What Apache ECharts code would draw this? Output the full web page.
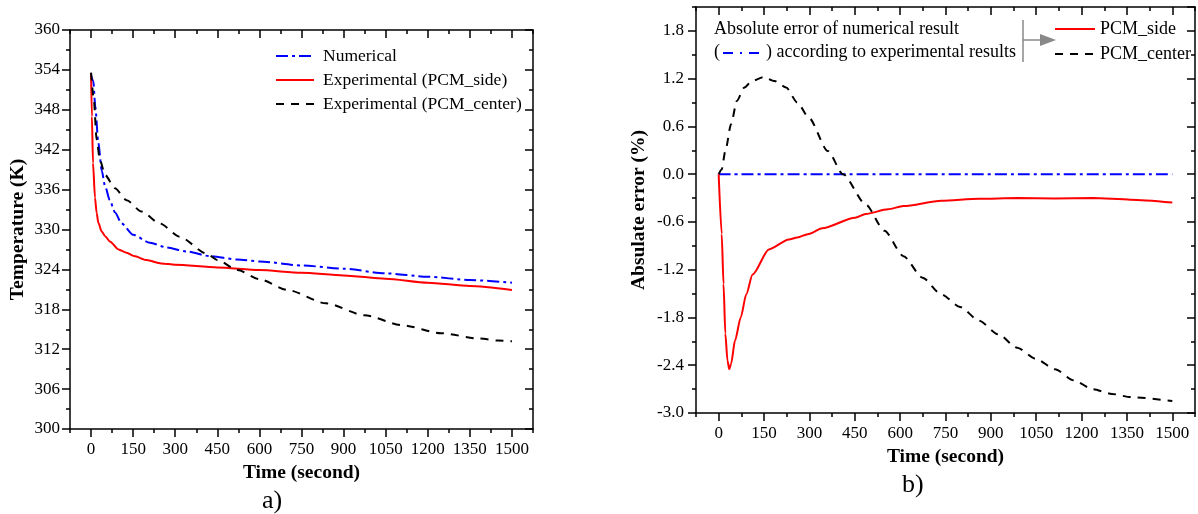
<!DOCTYPE html>
<html>
<head>
<meta charset="utf-8">
<script src="https://cdn.jsdelivr.net/npm/echarts@6/dist/echarts.min.js"></script>
<style>
html, body { margin: 0; padding: 0; background: #fff; }
#container { width: 1198px; height: 514px; }
</style>
</head>
<body>
<div id="container"></div>
<script>
// a) temperature (K) against time (s)
var tNumerical = [0, 8, 15, 26, 38, 50, 67, 85, 109, 150, 210, 270, 340, 423, 520, 600, 750, 900, 1050, 1200, 1350, 1500];
var tempNumerical = [353.2, 352.3, 348.5, 343.0, 338.9, 336.5, 334.4, 332.6, 330.9, 329.2, 328.0, 327.3, 326.7, 326.0, 325.5, 325.2, 324.6, 324.1, 323.4, 322.9, 322.4, 322.0];

var tSide = [0, 3, 7, 14, 20, 26, 38, 50, 67, 98, 127, 153, 198, 250, 300, 450, 600, 750, 900, 1050, 1200, 1350, 1500];
var tempSide = [353.5, 347.0, 340.0, 334.8, 332.5, 331.0, 329.7, 329.0, 328.2, 327.0, 326.5, 326.0, 325.4, 324.9, 324.7, 324.3, 323.9, 323.5, 323.1, 322.6, 322.0, 321.5, 320.9];

var tCenter = [0, 10, 20, 32, 50, 85, 127, 180, 245, 316, 411, 451, 522, 602, 700, 837, 974, 1110, 1247, 1384, 1450, 1500];
var tempCenter = [353.6, 349.5, 343.5, 340.4, 338.2, 336.2, 334.4, 332.7, 330.9, 328.9, 326.4, 325.4, 323.9, 322.5, 320.9, 318.9, 317.1, 315.6, 314.4, 313.6, 313.3, 313.2];

// b) absolute error (%) against time (s)
var tErrNum = [0, 1500];
var errNum = [0, 0];

var tErrSide = [0, 10, 16, 22, 29, 35, 41, 54, 73, 91, 112, 166, 232, 260, 298, 342, 451, 486, 560, 611, 736, 861, 987, 1112, 1237, 1362, 1500];
var errSide = [0, -0.75, -1.38, -2.0, -2.34, -2.45, -2.38, -2.09, -1.80, -1.51, -1.26, -0.945, -0.82, -0.795, -0.75, -0.68, -0.547, -0.50, -0.441, -0.40, -0.335, -0.31, -0.30, -0.305, -0.30, -0.32, -0.356];

var tErrCenter = [0, 10, 22, 41, 60, 85, 110, 148, 185, 223, 260, 298, 361, 411, 486, 548, 611, 674, 736, 799, 861, 924, 987, 1049, 1112, 1174, 1237, 1300, 1362, 1500];
var errCenter = [0, 0.06, 0.29, 0.63, 0.92, 1.09, 1.17, 1.22, 1.17, 1.09, 0.90, 0.71, 0.29, 0, -0.38, -0.71, -1.03, -1.30, -1.51, -1.67, -1.84, -2.01, -2.18, -2.32, -2.45, -2.59, -2.70, -2.76, -2.80, -2.85];

var timeTicks = [0, 150, 300, 450, 600, 750, 900, 1050, 1200, 1350, 1500];

var FONT = 'Liberation Serif';

function zip(xs, ys) {
    return xs.map(function (x, i) { return [x, ys[i]]; });
}

var tickStyle = { color: '#000', width: 1.5 };

// four x axes per grid: bottom (labels + short ticks), bottom long ticks, top short, top long
function xAxes(g, nameGap) {
    var base = {
        gridIndex: g, type: 'value', min: -75, max: 1575, interval: 75,
        splitLine: { show: false },
        axisLine: { show: false, onZero: false },
        axisLabel: { show: false }
    };
    return [
        Object.assign({}, base, {
            position: 'bottom',
            axisLine: { show: true, onZero: false, lineStyle: tickStyle },
            axisTick: { inside: false, length: 4, lineStyle: tickStyle },
            axisLabel: {
                show: true, color: '#000', fontFamily: FONT, fontSize: 17, margin: 12,
                formatter: function (v) { return (v >= 0 && v % 150 === 0) ? String(v) : ''; }
            },
            name: 'Time (second)', nameLocation: 'middle', nameGap: nameGap,
            nameTextStyle: { color: '#000', fontFamily: FONT, fontSize: 19.5, fontWeight: 'bold' }
        }),
        Object.assign({}, base, {
            position: 'bottom',
            axisTick: { inside: false, length: 8, customValues: timeTicks, lineStyle: tickStyle }
        }),
        Object.assign({}, base, {
            position: 'top',
            axisLine: { show: true, onZero: false, lineStyle: tickStyle },
            axisTick: { inside: true, length: 4, lineStyle: tickStyle }
        }),
        Object.assign({}, base, {
            position: 'top',
            axisTick: { inside: true, length: 8, customValues: timeTicks, lineStyle: tickStyle }
        })
    ];
}

function yAxes(g, min, max, step, name, nameGap, margin, showMax, fmt) {
    var base = {
        gridIndex: g, type: 'value', min: min, max: max,
        splitLine: { show: false },
        axisLine: { show: false, onZero: false },
        axisLabel: { show: false }
    };
    return [
        Object.assign({}, base, {
            position: 'left', interval: step,
            axisLine: { show: true, onZero: false, lineStyle: tickStyle },
            axisTick: { inside: false, length: 8, lineStyle: tickStyle },
            axisLabel: {
                show: true, color: '#000', fontFamily: FONT, fontSize: 17, margin: margin,
                showMaxLabel: showMax, showMinLabel: true, formatter: fmt
            },
            name: name, nameLocation: 'middle', nameGap: nameGap,
            nameTextStyle: { color: '#000', fontFamily: FONT, fontSize: 19.5, fontWeight: 'bold' }
        }),
        Object.assign({}, base, {
            position: 'left', interval: step / 2,
            axisTick: { inside: false, length: 4, lineStyle: tickStyle }
        }),
        Object.assign({}, base, {
            position: 'right', interval: step,
            axisLine: { show: true, onZero: false, lineStyle: tickStyle },
            axisTick: { inside: true, length: 8, lineStyle: tickStyle }
        }),
        Object.assign({}, base, {
            position: 'right', interval: step / 2,
            axisTick: { inside: true, length: 4, lineStyle: tickStyle }
        })
    ];
}

var blueDash = [12, 4, 3, 4];
var blackDash = [8, 7];

function line(name, data, xi, yi, color, type) {
    return {
        name: name, type: 'line', xAxisIndex: xi, yAxisIndex: yi,
        data: data, showSymbol: false, symbol: 'none', smooth: 0.25, smoothMonotone: 'x',
        lineStyle: { color: color, width: 2, type: type },
        itemStyle: { color: color },
        z: 3
    };
}

var myChart = echarts.init(document.getElementById('container'));
var option = {
    backgroundColor: '#fff',
    animation: false,
    grid: [
        { left: 70, top: 30, width: 463, height: 399 },
        { left: 696, top: 7, width: 503, height: 406 }
    ],
    xAxis: xAxes(0, 33).concat(xAxes(1, 32)),
    yAxis: yAxes(0, 300, 360, 6, 'Temperature (K)', 42, 10, true, function (v) { return String(Math.round(v)); })
        .concat(yAxes(1, -3.0, 2.1, 0.6, 'Absulate error (%)', 47, 12, false, function (v) { return v.toFixed(1); })),
    legend: [
        {
            orient: 'vertical', left: 275, top: 47, padding: 0, itemWidth: 38, itemHeight: 14, itemGap: 6,
            itemStyle: { opacity: 0 },
            textStyle: { color: '#000', fontFamily: FONT, fontSize: 17.5, padding: [0, 0, 0, 4] },
            data: ['Numerical', 'Experimental (PCM_side)', 'Experimental (PCM_center)']
        },
        {
            orient: 'vertical', left: 1054, top: 20, padding: 0, itemWidth: 40, itemHeight: 14, itemGap: 7,
            itemStyle: { opacity: 0 },
            textStyle: { color: '#000', fontFamily: FONT, fontSize: 18 },
            data: ['PCM_side', 'PCM_center']
        }
    ],
    graphic: [
        { type: 'text', left: 714, top: 20, style: { text: 'Absolute error of numerical result', fill: '#000', font: '18px "Liberation Serif"' } },
        { type: 'text', left: 714, top: 43, style: { text: '(', fill: '#000', font: '18px "Liberation Serif"' } },
        { type: 'line', shape: { x1: 723, y1: 53, x2: 761, y2: 53 }, style: { stroke: '#0000ff', lineWidth: 2, lineDash: [10, 7, 2, 7] } },
        { type: 'text', left: 766, top: 43, style: { text: ') according to experimental results', fill: '#000', font: '18px "Liberation Serif"' } },
        { type: 'line', shape: { x1: 1023, y1: 20, x2: 1023, y2: 62 }, style: { stroke: '#888', lineWidth: 1.5 } },
        { type: 'line', shape: { x1: 1023, y1: 40, x2: 1042, y2: 40 }, style: { stroke: '#888', lineWidth: 1.5 } },
        { type: 'polygon', shape: { points: [[1040, 34], [1056, 40], [1040, 46]] }, style: { fill: '#888' } },
        { type: 'text', left: 262, top: 488, style: { text: 'a)', fill: '#000', font: '26px "Liberation Serif"' } },
        { type: 'text', left: 902, top: 472, style: { text: 'b)', fill: '#000', font: '26px "Liberation Serif"' } }
    ],
    series: [
        line('Numerical', zip(tNumerical, tempNumerical), 0, 0, '#0000ff', blueDash),
        line('Experimental (PCM_side)', zip(tSide, tempSide), 0, 0, '#ff0000', 'solid'),
        line('Experimental (PCM_center)', zip(tCenter, tempCenter), 0, 0, '#000000', blackDash),
        line('Numerical error', zip(tErrNum, errNum), 4, 4, '#0000ff', blueDash),
        line('PCM_side', zip(tErrSide, errSide), 4, 4, '#ff0000', 'solid'),
        line('PCM_center', zip(tErrCenter, errCenter), 4, 4, '#000000', blackDash)
    ]
};
myChart.setOption(option);
</script>
</body>
</html>
